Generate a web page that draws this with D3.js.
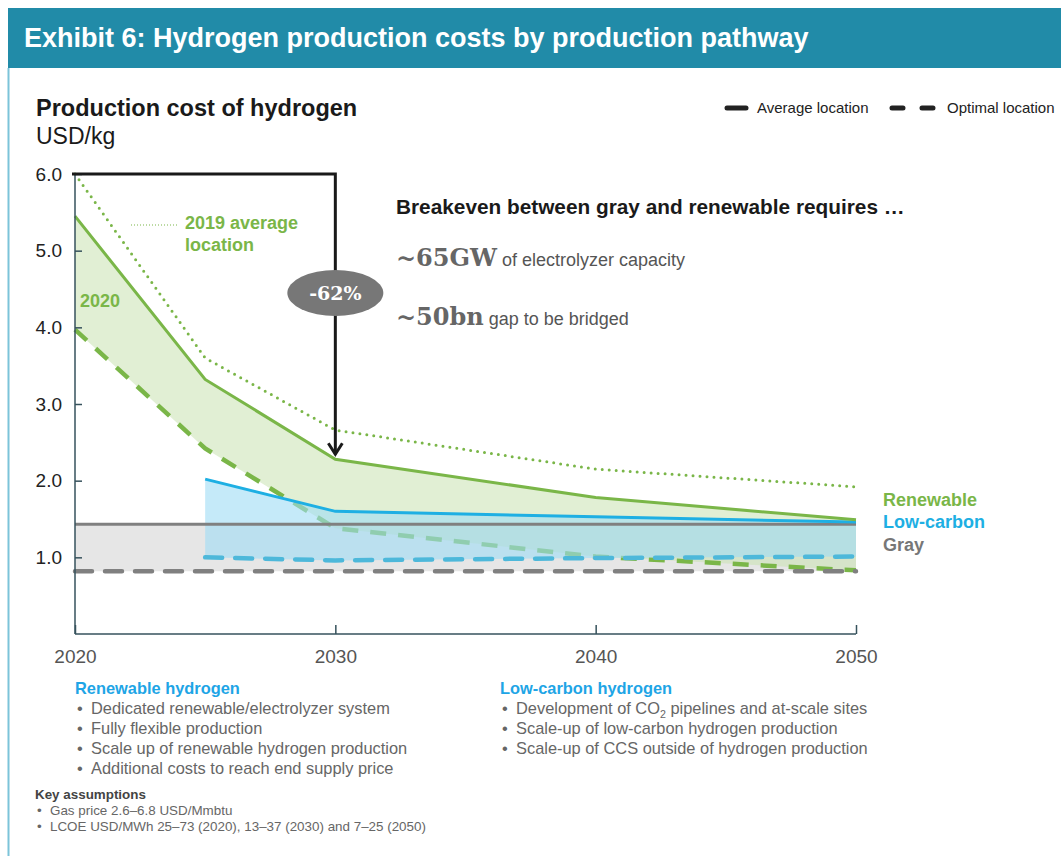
<!DOCTYPE html>
<meta charset="utf-8">
<script src="https://d3js.org/d3.v7.min.js"></script>
<style>
  body { margin: 0; background: #fff; font-family: "Liberation Sans", Arial, sans-serif; }
  .tick text { font-family: "Liberation Sans", Arial, sans-serif; }
</style>
<body>
<div id="my_dataviz"></div>
<script>

// ---- data ----
var years = [2020, 2025, 2030, 2040, 2050];
var renewableAvg = [5.45, 3.32, 2.28, 1.78, 1.49];
var renewableOpt = [3.97, 2.42, 1.38, 1.01, 0.83];
var average2019 = [6.0, 3.6, 2.66, 2.15, 1.92];

var lowCarbonYears = [2025, 2030, 2040, 2050];
var lowCarbonAvg = [2.02, 1.6, 1.53, 1.46];
var lowCarbonOpt = [1.0, 0.96, 0.99, 1.01];

var grayYears = [2020, 2050];
var grayAvg = [1.43, 1.43];
var grayOpt = [0.82, 0.82];

var yTicks = [1, 2, 3, 4, 5, 6];
var xTicks = [2020, 2030, 2040, 2050];

var renewableBullets = ["Dedicated renewable/electrolyzer system", "Fully flexible production",
  "Scale up of renewable hydrogen production", "Additional costs to reach end supply price"];
var lowCarbonBullets = ["Development of CO|2| pipelines and at-scale sites",
  "Scale-up of low-carbon hydrogen production", "Scale-up of CCS outside of hydrogen production"];
var keyBullets = ["Gas price 2.6–6.8 USD/Mmbtu", "LCOE USD/MWh 25–73 (2020), 13–37 (2030) and 7–25 (2050)"];

var green = "#7ab648", blue = "#1eafe3", blueDash = "#4db8da", gray = "#808080";

var svg = d3.select("#my_dataviz").append("svg")
  .attr("width", 1061).attr("height", 856);

// header band
svg.append("rect").attr("x", 8).attr("y", 8).attr("width", 1053).attr("height", 60).attr("fill", "#218ba8");
svg.append("text").attr("x", 24).attr("y", 47).attr("fill", "#fff")
  .style("font-size", "27px").style("font-weight", "bold").text("Exhibit 6: Hydrogen production costs by production pathway");
svg.append("line").attr("x1", 8.5).attr("x2", 8.5).attr("y1", 68).attr("y2", 856)
  .attr("stroke", "#7cc4d9").attr("stroke-width", 2);

svg.append("text").attr("x", 36).attr("y", 116).attr("fill", "#1a1a1a")
  .style("font-size", "23.5px").style("font-weight", "bold").text("Production cost of hydrogen");
svg.append("text").attr("x", 36).attr("y", 144).attr("fill", "#1a1a1a")
  .style("font-size", "23px").text("USD/kg");

// legend
var legend = svg.append("g").style("font-size", "15px").attr("fill", "#222");
legend.append("line").attr("x1", 727).attr("x2", 746).attr("y1", 108).attr("y2", 108)
  .attr("stroke", "#222").attr("stroke-width", 5).attr("stroke-linecap", "round");
legend.append("text").attr("x", 757).attr("y", 113).text("Average location");
legend.append("line").attr("x1", 892).attr("x2", 934).attr("y1", 108).attr("y2", 108)
  .attr("stroke", "#222").attr("stroke-width", 5).attr("stroke-linecap", "round").attr("stroke-dasharray", "11 19");
legend.append("text").attr("x", 947).attr("y", 113).text("Optimal location");

// ---- scales ----
var x = d3.scaleLinear().domain([2020, 2050]).range([75, 856]);
var y = d3.scaleLinear().domain([0, 6]).range([634, 174]);

function pts(xs, ys) { return xs.map(function (d, i) { return [d, ys[i]]; }); }
function band(xs, lo, hi) { return xs.map(function (d, i) { return {x: d, lo: lo[i], hi: hi[i]}; }); }

var line = d3.line().x(function (d) { return x(d[0]); }).y(function (d) { return y(d[1]); });
var area = d3.area().x(function (d) { return x(d.x); })
  .y0(function (d) { return y(d.lo); }).y1(function (d) { return y(d.hi); });

var plot = svg.append("g");

// fills
plot.append("path").datum(band(grayYears, grayOpt, grayAvg)).attr("d", area).attr("fill", "#e6e6e6");
plot.append("path").datum(band(years, renewableOpt, renewableAvg)).attr("d", area)
  .attr("fill", "#c9e2b0").attr("fill-opacity", 0.55);
plot.append("path").datum(pts(years, renewableOpt)).attr("d", line).attr("fill", "none")
  .attr("stroke", green).attr("stroke-width", 4.5).attr("stroke-dasharray", "16 12");
plot.append("path").datum(band(lowCarbonYears, lowCarbonOpt, lowCarbonAvg)).attr("d", area)
  .attr("fill", "#9fdcf5").attr("fill-opacity", 0.6);

// lines
plot.append("path").datum(pts(grayYears, grayAvg)).attr("d", line).attr("fill", "none")
  .attr("stroke", gray).attr("stroke-width", 3);
plot.append("path").datum(pts(grayYears, grayOpt)).attr("d", line).attr("fill", "none")
  .attr("stroke", gray).attr("stroke-width", 4.5).attr("stroke-dasharray", "17 13").attr("stroke-linecap", "round");
plot.append("path").datum(pts(lowCarbonYears, lowCarbonOpt)).attr("d", line).attr("fill", "none")
  .attr("stroke", blueDash).attr("stroke-width", 4.5).attr("stroke-dasharray", "17 13").attr("stroke-linecap", "round");
plot.append("path").datum(pts(lowCarbonYears, lowCarbonAvg)).attr("d", line).attr("fill", "none")
  .attr("stroke", blue).attr("stroke-width", 3);
plot.append("path").datum(pts(years, renewableAvg)).attr("d", line).attr("fill", "none")
  .attr("stroke", green).attr("stroke-width", 3);
plot.append("path").datum(pts(years, average2019)).attr("d", line).attr("fill", "none")
  .attr("stroke", green).attr("stroke-width", 3).attr("stroke-dasharray", "0 7").attr("stroke-linecap", "round");

// axes
var yAxis = svg.append("g").attr("transform", "translate(75,0)")
  .call(d3.axisRight(y).tickValues(yTicks).tickSize(7).tickFormat(d3.format(".1f")));
yAxis.selectAll(".tick text").attr("x", -13).attr("text-anchor", "end").attr("fill", "#222").style("font-size", "19px");
var xAxis = svg.append("g").attr("transform", "translate(0,634)")
  .call(d3.axisTop(x).tickValues(xTicks).tickSize(9).tickFormat(d3.format("d")));
xAxis.selectAll(".tick text").attr("y", 29).attr("fill", "#555").style("font-size", "19px");
svg.selectAll(".domain, .tick line").attr("stroke", "#36525c").attr("stroke-width", 1.5);
yAxis.select(".domain").attr("d", "M0," + y(6) + "V" + y(0));
xAxis.select(".domain").attr("d", "M" + x(2020) + ",0H" + x(2050));

// -62% arrow
var arrow = svg.append("g").attr("fill", "none").attr("stroke", "#1a1a1a").attr("stroke-width", 3);
arrow.append("path").attr("d", "M" + (x(2020) - 3) + "," + y(6) + "H" + x(2030) + "V" + (y(2.28) - 5));
arrow.append("path").attr("d", "M" + (x(2030) - 7) + "," + (y(2.28) - 16) + "L" + x(2030) + "," + (y(2.28) - 5) + "L" + (x(2030) + 7) + "," + (y(2.28) - 16));
svg.append("ellipse").attr("cx", x(2030)).attr("cy", 293).attr("rx", 48).attr("ry", 23).attr("fill", "#777");
svg.append("text").attr("x", x(2030)).attr("y", 300).attr("text-anchor", "middle").attr("fill", "#fff")
  .style("font-family", "'DejaVu Serif', serif").style("font-weight", "bold").style("font-size", "19px").text("-62%");

// chart annotations
svg.append("line").attr("x1", 131).attr("x2", 178).attr("y1", 225).attr("y2", 225)
  .attr("stroke", green).attr("stroke-width", 1.2).attr("stroke-dasharray", "1 2");
var gl = svg.append("g").attr("fill", green).style("font-size", "18px").style("font-weight", "bold");
gl.append("text").attr("x", 185).attr("y", 229).text("2019 average");
gl.append("text").attr("x", 185).attr("y", 251).text("location");
gl.append("text").attr("x", 80).attr("y", 307).text("2020");

var rl = svg.append("g").style("font-size", "18px").style("font-weight", "bold");
rl.append("text").attr("x", 883).attr("y", 506).attr("fill", green).text("Renewable");
rl.append("text").attr("x", 883).attr("y", 528).attr("fill", blue).text("Low-carbon");
rl.append("text").attr("x", 883).attr("y", 551).attr("fill", "#777").text("Gray");

svg.append("text").attr("x", 396).attr("y", 214).attr("fill", "#1a1a1a")
  .style("font-size", "20.8px").style("font-weight", "bold").text("Breakeven between gray and renewable requires …");
var big = [["~65GW", " of electrolyzer capacity", 266], ["~50bn", " gap to be bridged", 325]];
big.forEach(function (b) {
  var t = svg.append("text").attr("x", 396).attr("y", b[2]).attr("fill", "#666");
  t.append("tspan").style("font-family", "'DejaVu Serif', serif").style("font-weight", "bold").style("font-size", "24px").text(b[0]);
  t.append("tspan").style("font-size", "18px").attr("fill", "#555").text(b[1]);
});

// bottom notes
function bullets(x0, y0, head, items, size, gap, headColor, indent) {
  var g = svg.append("g").style("font-size", size + "px");
  g.append("text").attr("x", x0).attr("y", y0).attr("fill", headColor)
    .style("font-weight", "bold").text(head);
  items.forEach(function (s, i) {
    var yy = y0 + gap * (i + 1);
    g.append("text").attr("x", x0 + 2).attr("y", yy).attr("fill", "#666").text("•");
    var t = g.append("text").attr("x", x0 + indent).attr("y", yy).attr("fill", "#666");
    s.split("|").forEach(function (part, k) {
      var sp = t.append("tspan").text(part);
      if (k % 2 == 1) sp.attr("dy", 4).style("font-size", (size * 0.65) + "px");
      else if (k > 0) sp.attr("dy", -4);
    });
  });
}
bullets(75, 694, "Renewable hydrogen", renewableBullets, 16.4, 20, "#1ea5e6", 16);
bullets(500, 694, "Low-carbon hydrogen", lowCarbonBullets, 16.4, 20, "#1ea5e6", 16);
bullets(35, 799, "Key assumptions", keyBullets, 13.4, 16, "#444", 15);

</script>
</body>
